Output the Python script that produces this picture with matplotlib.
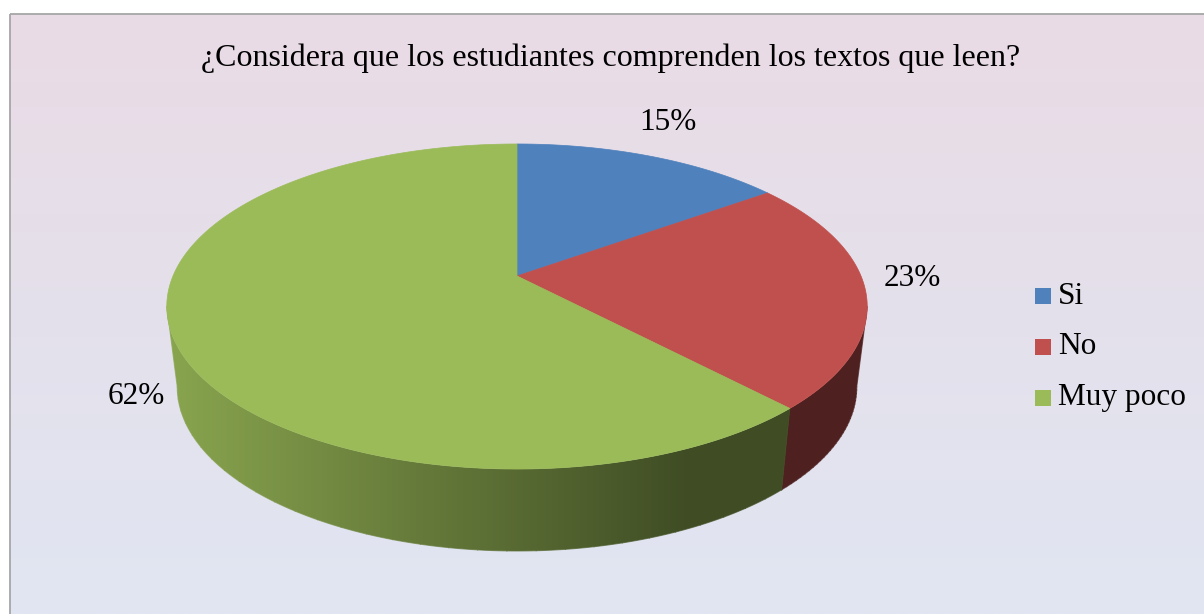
import numpy as np
import matplotlib
matplotlib.use("Agg")
import matplotlib.pyplot as plt
from matplotlib.patches import Polygon, Rectangle
from matplotlib.colors import to_rgb

# ---------------- data ----------------
categories = ["Si", "No", "Muy poco"]
values = [15, 23, 62]
labels = ["15%", "23%", "62%"]
title = "¿Considera que los estudiantes comprenden los textos que leen?"

# ---------------- style / layout ----------------
colors = ["#4F81BD", "#C0504D", "#9BBB59"]
W, H = 1204, 614
CX, CY = 517, 276          # pie apex (pixels)
A, B, K = 344.0, 156.8, 0.1877   # perspective ellipse params
DEPTH = 80
BOT_SX, BOT_SY = 0.97, 1.01
label_pos = [(668, 123, "center"), (912, 279, "center"), (165, 396, "right")]
FONT = "Liberation Serif"

fig = plt.figure(figsize=(W / 100, H / 100), dpi=100)
ax = fig.add_axes([0, 0, 1, 1])
ax.set_xlim(0, W)
ax.set_ylim(H, 0)
ax.axis("off")

# background gradient inside the chart frame
top_c = np.array([233, 219, 229]) / 255
bot_c = np.array([224, 230, 242]) / 255
t = np.linspace(0, 1, 256)[:, None, None]
grad = top_c * (1 - t) + bot_c * t
grad = np.repeat(grad, 2, axis=1)
ax.imshow(grad, extent=[10, W, H, 14], aspect="auto", zorder=0, interpolation="bilinear")
ax.plot([10, W], [14, 14], color="#A6A6A6", lw=1.3, zorder=1, solid_capstyle="butt")
ax.plot([10, 10], [14, H], color="#A6A6A6", lw=1.3, zorder=1, solid_capstyle="butt")


def proj(theta, bottom=False):
    u = np.sin(theta)
    v = np.cos(theta)
    w = 1 + K * v
    if bottom:
        return CX + BOT_SX * A * u / w, CY + DEPTH - BOT_SY * B * v / w
    return CX + A * u / w, CY - B * v / w


fracs = np.array(values, dtype=float) / np.sum(values)
bounds = np.concatenate([[0], np.cumsum(fracs)]) * 2 * np.pi
th_r = np.arccos(-K)
th_l = 2 * np.pi - th_r

# horizontal shading image for side walls
xs = np.linspace(0, W, 800)
shade = np.clip(0.88 - (xs - 170) / (690 - 170) * 0.47, 0.41, 0.9)

for i in range(len(values)):
    t1, t2 = bounds[i], bounds[i + 1]
    a, b = max(t1, th_r), min(t2, th_l)
    if a < b:
        ts = np.linspace(a, b, 300)
        xt, yt = proj(ts)
        xb, yb = proj(ts[::-1], bottom=True)
        poly = Polygon(np.column_stack([np.concatenate([xt, xb]), np.concatenate([yt, yb])]),
                       closed=True, facecolor="none", edgecolor="none")
        ax.add_patch(poly)
        base = np.array(to_rgb(colors[i]))
        img = (base[None, :] * shade[:, None])[None, :, :]
        im = ax.imshow(img, extent=[0, W, H, 0], aspect="auto", zorder=2,
                       interpolation="bilinear")
        im.set_clip_path(poly)
        sx = np.interp(xb, xs, shade)
        for j in range(0, len(xb) - 1, 10):
            k2 = min(j + 11, len(xb))
            ax.plot(xb[j:k2], yb[j:k2], color=tuple(base * sx[j]), lw=0.8, alpha=0.7, zorder=2)
        # side edges
        for ang in (a, b):
            x0, y0 = proj(ang)
            x1, y1 = proj(ang, bottom=True)
            ax.plot([x0, x1], [y0, y1], color=tuple(base * np.interp(x0, xs, shade)),
                    lw=0.8, alpha=0.7, zorder=2)

handles = []
for i in range(len(values)):
    ts = np.linspace(bounds[i], bounds[i + 1], 400)
    x, y = proj(ts)
    pts = np.column_stack([np.concatenate([[CX], x]), np.concatenate([[CY], y])])
    p = Polygon(pts, closed=True, facecolor=colors[i], edgecolor=colors[i], lw=0.5, zorder=3)
    ax.add_patch(p)
    handles.append(p)

# data labels
for lab, (lx, ly, ha) in zip(labels, label_pos):
    ax.text(lx, ly, lab, ha=ha, va="center", fontsize=22.5, family=FONT, color="black", zorder=5)

# title
ax.text(611, 58, title, ha="center", va="center", fontsize=23, family=FONT, color="black", zorder=5)

# legend
leg_y = [296, 347, 398]
for cat, col, yy in zip(categories, colors, leg_y):
    ax.add_patch(Rectangle((1035, yy - 8), 16, 16, facecolor=col, edgecolor="none", zorder=5))
    ax.text(1058, yy, cat, ha="left", va="center", fontsize=22.5, family=FONT, color="black", zorder=5)

fig.savefig("out.png", dpi=100)
